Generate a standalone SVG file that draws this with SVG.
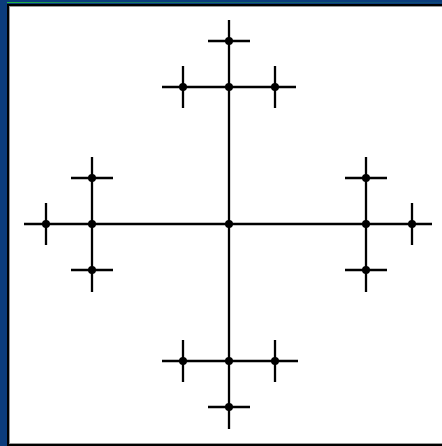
<svg xmlns="http://www.w3.org/2000/svg" width="442" height="446" viewBox="0 0 442 446">
  <style>
    .c { stroke: #000; stroke-width: 2.3; fill: none; stroke-linecap: butt; }
    .n { fill: #000; }
  </style>
  <defs>
    <circle id="dot" r="4" class="n"/>
    <linearGradient id="gl" x1="0" y1="0" x2="1" y2="0">
      <stop offset="0" stop-color="#22c43a"/>
      <stop offset="0.15" stop-color="#1a8a5a"/>
      <stop offset="1" stop-color="#0e4a78"/>
    </linearGradient>
  </defs>
  <rect x="0" y="0" width="442" height="446" fill="#ffffff"/>
  <rect x="0" y="0" width="442" height="4" fill="#0b3c7c"/>
  <rect x="0" y="2" width="442" height="1" fill="url(#gl)"/>
  <rect x="0" y="0" width="7" height="446" fill="#0b3c7c"/>
  <rect x="7" y="4" width="435" height="2" fill="#000"/>
  <rect x="7" y="4" width="2" height="442" fill="#000"/>
  <rect x="7" y="444" width="435" height="2" fill="#000"/>
  <rect x="9" y="6" width="433" height="1" fill="#9a9a9a"/>
  <rect x="9" y="6" width="1" height="438" fill="#9a9a9a"/>
  <rect x="9" y="443" width="433" height="1" fill="#9a9a9a"/>

  <g id="connectors" class="c">
    <line x1="229" y1="87" x2="229" y2="361"/>
    <line x1="92" y1="224" x2="366" y2="224"/>
    <line x1="162" y1="87" x2="296" y2="87"/>
    <line x1="229" y1="20" x2="229" y2="87"/>
    <line x1="208" y1="41" x2="250" y2="41"/>
    <line x1="183" y1="66" x2="183" y2="108"/>
    <line x1="275" y1="66" x2="275" y2="108"/>
    <line x1="162" y1="361" x2="298" y2="361"/>
    <line x1="229" y1="361" x2="229" y2="429"/>
    <line x1="208" y1="407" x2="250" y2="407"/>
    <line x1="183" y1="340" x2="183" y2="382"/>
    <line x1="275" y1="340" x2="275" y2="382"/>
    <line x1="92" y1="157" x2="92" y2="292"/>
    <line x1="24" y1="224" x2="92" y2="224"/>
    <line x1="46" y1="203" x2="46" y2="245"/>
    <line x1="71" y1="178" x2="113" y2="178"/>
    <line x1="71" y1="270" x2="113" y2="270"/>
    <line x1="366" y1="157" x2="366" y2="292"/>
    <line x1="366" y1="224" x2="432" y2="224"/>
    <line x1="412" y1="203" x2="412" y2="245"/>
    <line x1="345" y1="178" x2="387" y2="178"/>
    <line x1="345" y1="270" x2="387" y2="270"/>
  </g>

  <g id="n-center"><use href="#dot" x="229" y="224"/></g>
  <g id="n-top"><use href="#dot" x="229" y="87"/></g>
  <g id="n-top-top"><use href="#dot" x="229" y="41"/></g>
  <g id="n-top-left"><use href="#dot" x="183" y="87"/></g>
  <g id="n-top-right"><use href="#dot" x="275" y="87"/></g>
  <g id="n-bottom"><use href="#dot" x="229" y="361"/></g>
  <g id="n-bottom-bottom"><use href="#dot" x="229" y="407"/></g>
  <g id="n-bottom-left"><use href="#dot" x="183" y="361"/></g>
  <g id="n-bottom-right"><use href="#dot" x="275" y="361"/></g>
  <g id="n-left"><use href="#dot" x="92" y="224"/></g>
  <g id="n-left-left"><use href="#dot" x="46" y="224"/></g>
  <g id="n-left-top"><use href="#dot" x="92" y="178"/></g>
  <g id="n-left-bottom"><use href="#dot" x="92" y="270"/></g>
  <g id="n-right"><use href="#dot" x="366" y="224"/></g>
  <g id="n-right-right"><use href="#dot" x="412" y="224"/></g>
  <g id="n-right-top"><use href="#dot" x="366" y="178"/></g>
  <g id="n-right-bottom"><use href="#dot" x="366" y="270"/></g>
</svg>
